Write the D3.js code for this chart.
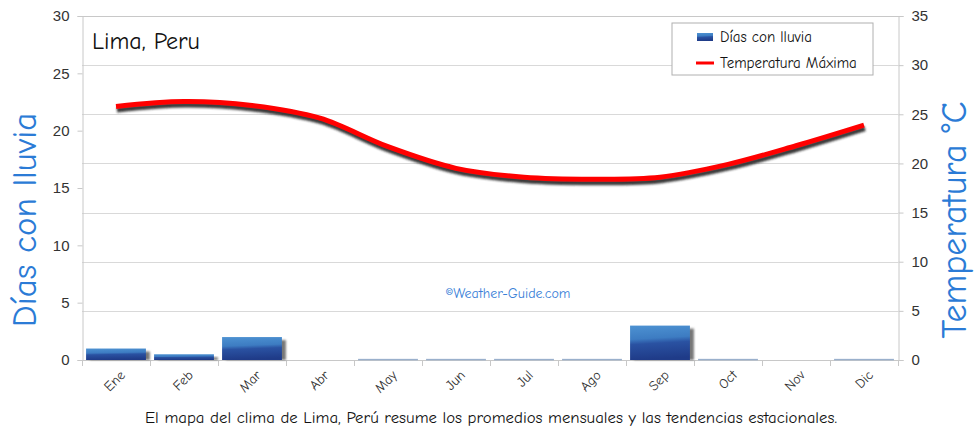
<!DOCTYPE html>
<html>
<head>
<meta charset="utf-8">
<script src="https://cdn.jsdelivr.net/npm/d3@7"></script>
<style>
  body { margin: 0; background: #fff; }
  svg { display: block; font-family: "Comic Sans MS", "Comic Neue", Lato, "Open Sans", sans-serif; }
</style>
</head>
<body>
<svg id="chart" width="976" height="432"></svg>
<script>
const months = [ "Ene", "Feb", "Mar", "Abr", "May", "Jun", "Jul", "Ago", "Sep", "Oct", "Nov", "Dic" ];
const rainDays = [ 1, 0.5, 2, 0, 0.1, 0.1, 0.1, 0.1, 3, 0.1, 0, 0.1 ];
const maxTemp = [ 25.8, 26.3, 25.9, 24.6, 21.7, 19.5, 18.6, 18.4, 18.6, 19.9, 21.8, 23.9 ];
const leftTicks = [ 0, 5, 10, 15, 20, 25, 30 ];
const rightTicks = [ 0, 5, 10, 15, 20, 25, 30, 35 ];

const svg = d3.select( "#chart" );
const M = { top: 16, right: 78, bottom: 72, left: 82 };
const W = 976, H = 432;
const x0 = M.left, x1 = W - M.right, y0 = H - M.bottom, y1 = M.top;

const x = d3.scaleBand().domain( months ).range( [ x0, x1 ] ).paddingInner( 0.12 ).paddingOuter( 0.06 );
const xb = d3.scaleBand().domain( months ).range( [ x0, x1 ] );
const yL = d3.scaleLinear().domain( [ 0, 30 ] ).range( [ y0, y1 ] );
const yR = d3.scaleLinear().domain( [ 0, 35 ] ).range( [ y0, y1 ] );

const defs = svg.append( "defs" );
const grad = defs.append( "linearGradient" ).attr( "id", "barGrad" )
  .attr( "x1", 0 ).attr( "y1", 0 ).attr( "x2", 0.1 ).attr( "y2", 1 );
grad.append( "stop" ).attr( "offset", "0%" ).attr( "stop-color", "#4d92d2" );
grad.append( "stop" ).attr( "offset", "40%" ).attr( "stop-color", "#3d7cc2" );
grad.append( "stop" ).attr( "offset", "55%" ).attr( "stop-color", "#2a52a2" );
grad.append( "stop" ).attr( "offset", "100%" ).attr( "stop-color", "#1f3b88" );
const blur = defs.append( "filter" ).attr( "id", "blur" ).attr( "x", "-20%" ).attr( "y", "-40%" ).attr( "width", "140%" ).attr( "height", "180%" );
blur.append( "feGaussianBlur" ).attr( "stdDeviation", 1.3 );

// gridlines follow the right axis
svg.append( "g" ).selectAll( "line" ).data( rightTicks.slice( 1 ) ).enter().append( "line" )
  .attr( "x1", x0 ).attr( "x2", x1 )
  .attr( "y1", d => Math.round( yR( d ) ) + 0.5 ).attr( "y2", d => Math.round( yR( d ) ) + 0.5 )
  .attr( "stroke", "#d9d9d9" );

// axes
const axisL = svg.append( "g" ).attr( "transform", `translate(${x0 + 0.5},0)` )
  .call( d3.axisLeft( yL ).tickValues( leftTicks ).tickSize( 5 ).tickPadding( 8 ) );
const axisR = svg.append( "g" ).attr( "transform", `translate(${x1 + 0.5},0)` )
  .call( d3.axisRight( yR ).tickValues( rightTicks ).tickSize( 5 ).tickPadding( 8 ) );
[ axisL, axisR ].forEach( a => {
  a.select( ".domain" ).attr( "stroke", "#c8c8c8" );
  a.selectAll( ".tick line" ).attr( "stroke", "#c8c8c8" );
  a.selectAll( "text" ).attr( "fill", "#333" ).style( "font-size", "15px" ).style( "font-family", "inherit" );
} );

svg.append( "line" ).attr( "x1", x0 ).attr( "x2", x1 ).attr( "y1", y0 + 0.5 ).attr( "y2", y0 + 0.5 ).attr( "stroke", "#c8c8c8" );
// category boundary ticks
svg.append( "g" ).selectAll( "line" ).data( d3.range( months.length + 1 ) ).enter().append( "line" )
  .attr( "x1", i => Math.round( x0 + xb.step() * i ) + 0.5 ).attr( "x2", i => Math.round( x0 + xb.step() * i ) + 0.5 )
  .attr( "y1", y0 ).attr( "y2", y0 + 6 ).attr( "stroke", "#c8c8c8" );
// month labels, rotated
svg.append( "g" ).selectAll( "text" ).data( months ).enter().append( "text" )
  .attr( "transform", m => `translate(${xb( m ) + xb.bandwidth() / 2 + 6},${y0 + 12}) rotate(-45)` )
  .attr( "text-anchor", "end" ).attr( "dy", "0.4em" )
  .text( m => m ).style( "font-size", "14px" ).attr( "fill", "#333" );
// top border
svg.append( "line" ).attr( "x1", x0 - 4 ).attr( "x2", x1 + 4 ).attr( "y1", y1 + 0.5 ).attr( "y2", y1 + 0.5 ).attr( "stroke", "#c8c8c8" );

// bars
const bars = svg.append( "g" );
const rain = months.map( ( m, i ) => ( { m, v: rainDays[i] } ) ).filter( d => d.v > 0 );
bars.selectAll( ".shadow" ).data( rain.filter( d => d.v >= 0.3 ) ).enter().append( "rect" )
  .attr( "x", d => x( d.m ) + 4 ).attr( "y", d => yL( d.v ) + 3 )
  .attr( "width", x.bandwidth() ).attr( "height", d => y0 - yL( d.v ) - 3 )
  .attr( "fill", "#777" ).attr( "filter", "url(#blur)" );
bars.selectAll( ".bar" ).data( rain ).enter().append( "rect" )
  .attr( "x", d => x( d.m ) ).attr( "y", d => yL( d.v ) )
  .attr( "width", x.bandwidth() ).attr( "height", d => Math.max( 1.5, y0 - yL( d.v ) ) )
  .attr( "fill", d => d.v >= 0.3 ? "url(#barGrad)" : "#9ab0cc" );

// temperature line
const tData = months.map( ( m, i ) => ( { m, v: maxTemp[i] } ) );
const line = d3.line().x( d => xb( d.m ) + xb.bandwidth() / 2 ).y( d => yR( d.v ) ).curve( d3.curveCatmullRom );
svg.append( "path" ).attr( "d", line( tData ) ).attr( "fill", "none" )
  .attr( "stroke", "#222" ).attr( "stroke-width", 5 ).attr( "stroke-opacity", 0.9 )
  .attr( "transform", "translate(1,3.5)" ).attr( "filter", "url(#blur)" );
svg.append( "path" ).attr( "d", line( tData ) ).attr( "fill", "none" )
  .attr( "stroke", "#ff0000" ).attr( "stroke-width", 5 ).attr( "stroke-linecap", "butt" );

// title
svg.append( "text" ).attr( "x", 92 ).attr( "y", 49 ).text( "Lima, Peru" )
  .style( "font-size", "24px" ).attr( "fill", "#111" );

// legend
const lg = svg.append( "g" ).attr( "transform", "translate(672,23)" );
lg.append( "rect" ).attr( "width", 201 ).attr( "height", 52 ).attr( "fill", "#fff" ).attr( "stroke", "#b0b0b0" );
lg.append( "rect" ).attr( "x", 25 ).attr( "y", 10 ).attr( "width", 16 ).attr( "height", 8 ).attr( "fill", "url(#barGrad)" );
lg.append( "text" ).attr( "x", 48 ).attr( "y", 19 ).text( "Días con lluvia" ).style( "font-size", "15px" ).attr( "fill", "#111" );
lg.append( "line" ).attr( "x1", 24 ).attr( "x2", 42 ).attr( "y1", 40 ).attr( "y2", 40 ).attr( "stroke", "#ff0000" ).attr( "stroke-width", 3 );
lg.append( "text" ).attr( "x", 48 ).attr( "y", 45 ).text( "Temperatura Máxima" ).style( "font-size", "15px" ).attr( "fill", "#111" );

// axis titles
svg.append( "text" ).attr( "transform", "translate(36,220) rotate(-90)" ).attr( "text-anchor", "middle" )
  .text( "Días con lluvia" ).style( "font-size", "35px" ).attr( "fill", "#2b7bd6" );
svg.append( "text" ).attr( "transform", "translate(966,220) rotate(-90)" ).attr( "text-anchor", "middle" )
  .text( "Temperatura °C" ).style( "font-size", "36px" ).attr( "fill", "#2b7bd6" );

// watermark
svg.append( "text" ).attr( "x", 508 ).attr( "y", 298 ).attr( "text-anchor", "middle" )
  .text( "©Weather-Guide.com" ).style( "font-size", "14px" ).attr( "fill", "#3a7fd8" );

// caption
svg.append( "text" ).attr( "x", 491 ).attr( "y", 423 ).attr( "text-anchor", "middle" )
  .text( "El mapa del clima de Lima, Perú resume los promedios mensuales y las tendencias estacionales." )
  .style( "font-size", "16.8px" ).attr( "fill", "#111" );
</script>
</body>
</html>
